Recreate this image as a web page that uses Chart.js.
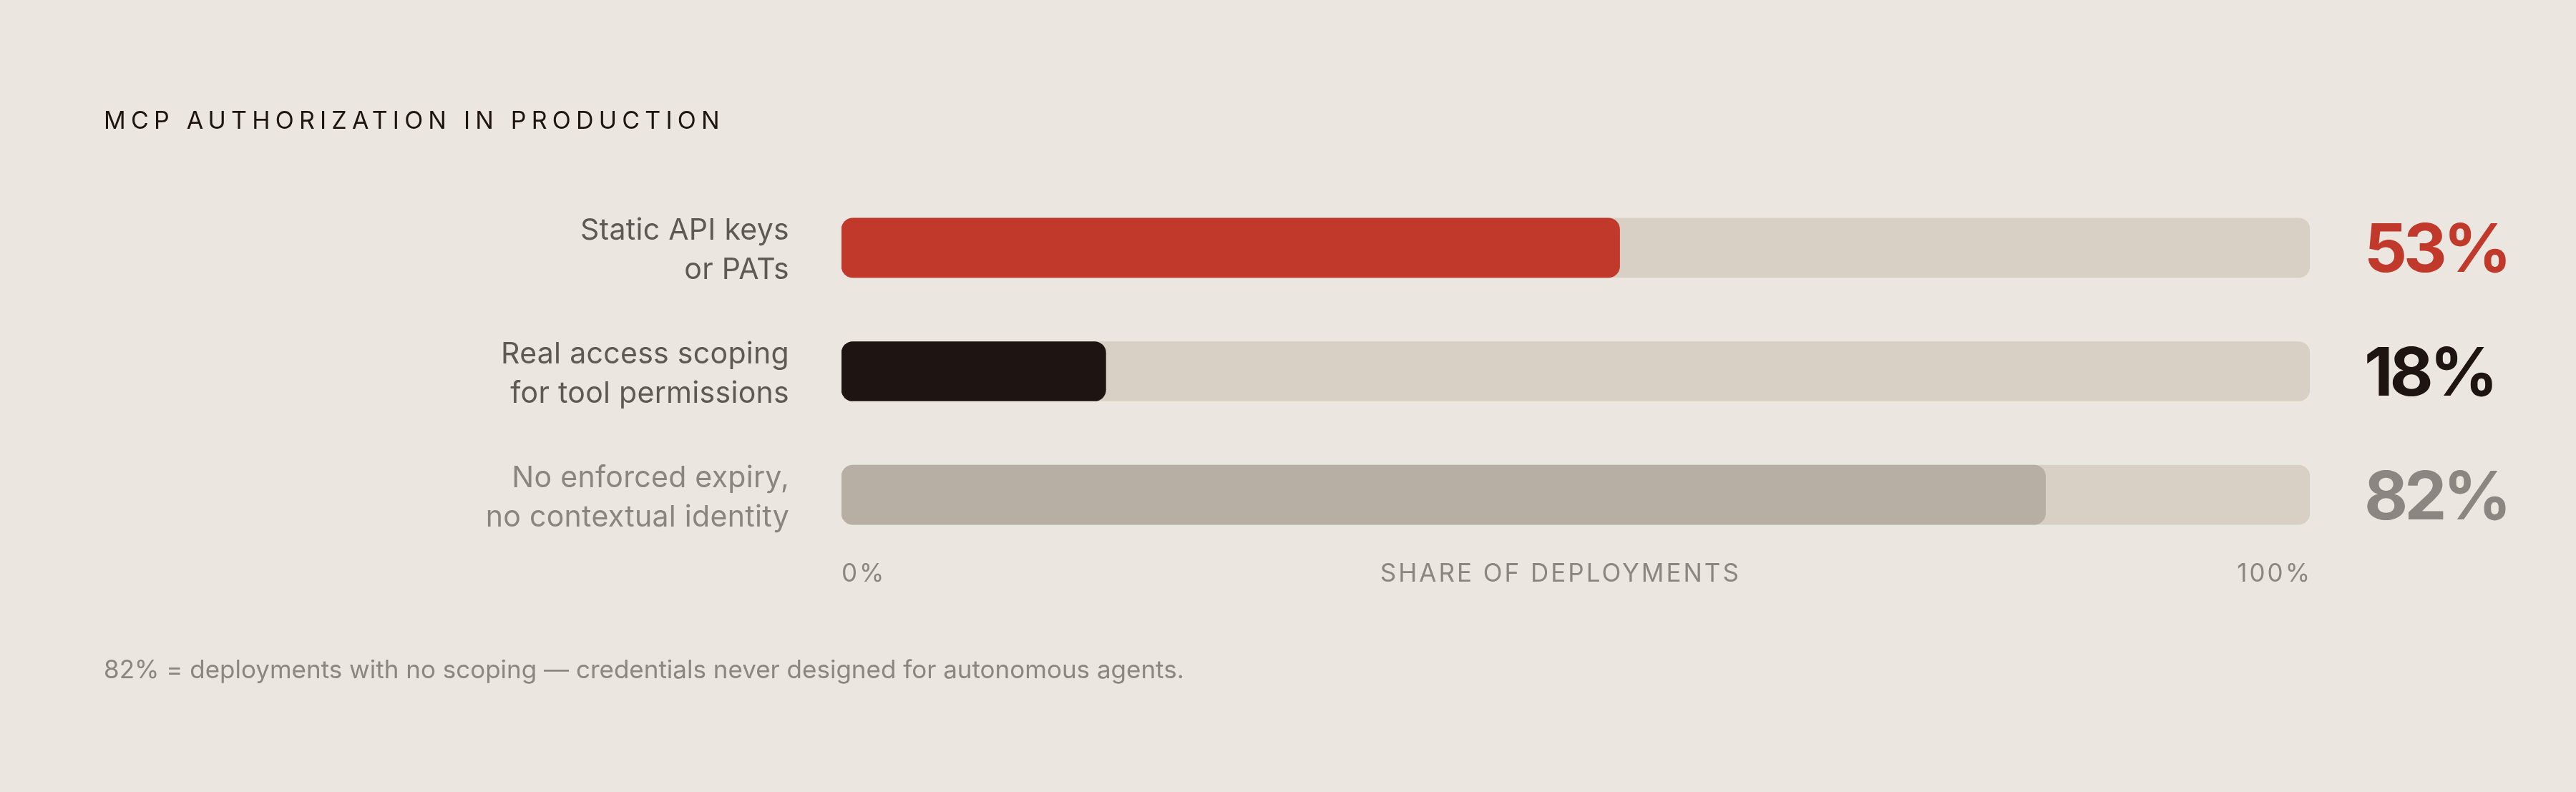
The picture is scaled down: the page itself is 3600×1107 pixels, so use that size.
<!DOCTYPE html>
<html>
<head>
<meta charset="utf-8">
<script src="https://cdn.jsdelivr.net/npm/chart.js@4"></script>
<style>
html,body{margin:0;padding:0;background:#EBE7E0;}
#wrap{width:3600px;height:1107px;}
canvas{display:block;}
</style>
</head>
<body>
<div id="wrap"><canvas id="c" width="3600" height="1107"></canvas></div>
<script>
// ---- data ----
const chartTitle = 'MCP AUTHORIZATION IN PRODUCTION';
const categories = [
  ['Static API keys', 'or PATs'],
  ['Real access scoping', 'for tool permissions'],
  ['No enforced expiry,', 'no contextual identity']
];
const values = [53, 18, 82];
const trackValues = [100, 100, 100];
const axisTickLabels = ['0%', '100%'];
const axisTitle = 'SHARE OF DEPLOYMENTS';
const footnote = '82% = deployments with no scoping \u2014 credentials never designed for autonomous agents.';

// ---- styles ----
const BG = '#EBE7E0';
const barColors = ['#C0392B', '#1E1412', '#B8AFA4'];
const valueTextColors = ['#C0392B', '#1E1412', '#8C8682'];
const catTextColors = ['#5E5955', '#5E5955', '#8A8580'];
const TRACK = '#D8D0C5';
const MUTED = '#8C8682';
const FONT = 'Inter, "DejaVu Sans", sans-serif';

const textPlugin = {
  id: 'texts',
  beforeDraw(chart) {
    const ctx = chart.ctx;
    ctx.save();
    ctx.fillStyle = BG;
    ctx.fillRect(0, 0, chart.width, chart.height);
    ctx.restore();
  },
  afterDraw(chart) {
    const ctx = chart.ctx;
    const xs = chart.scales.x, ys = chart.scales.y;
    ctx.save();
    // title
    ctx.font = '400 34px ' + FONT;
    ctx.letterSpacing = '7.2px';
    ctx.fillStyle = '#1E1412';
    ctx.textAlign = 'left';
    ctx.textBaseline = 'alphabetic';
    ctx.fillText(chartTitle, 145, 180);

    // category labels
    ctx.letterSpacing = '0.3px';
    ctx.font = '400 41px ' + FONT;
    ctx.textAlign = 'right';
    categories.forEach((lines, i) => {
      const cy = ys.getPixelForValue(i);
      ctx.fillStyle = catTextColors[i];
      ctx.fillText(lines[0], xs.left - 73, cy - 11);
      ctx.fillText(lines[1], xs.left - 73, cy + 44);
    });

    // value labels
    ctx.font = '700 94px ' + FONT;
    ctx.letterSpacing = '-5px';
    ctx.textAlign = 'left';
    values.forEach((v, i) => {
      const cy = ys.getPixelForValue(i);
      ctx.fillStyle = valueTextColors[i];
      ctx.fillText(v + '%', xs.getPixelForValue(100) + 76, cy + 34);
    });

    // axis labels
    ctx.font = '400 35px ' + FONT;
    ctx.letterSpacing = '3px';
    ctx.fillStyle = MUTED;
    const axisY = ys.bottom + 35;
    const x0 = xs.getPixelForValue(0), x1 = xs.getPixelForValue(100);
    ctx.textAlign = 'left';
    ctx.fillText(axisTickLabels[0], x0, axisY);
    const w0 = ctx.measureText(axisTickLabels[0]).width;
    ctx.textAlign = 'right';
    ctx.fillText(axisTickLabels[1], x1 + 3, axisY);
    const w1 = ctx.measureText(axisTickLabels[1]).width;
    ctx.textAlign = 'center';
    ctx.fillText(axisTitle, (x0 + w0 + x1 - w1) / 2, axisY);

    // footnote
    ctx.letterSpacing = '0px';
    ctx.font = '400 35px ' + FONT;
    ctx.textAlign = 'left';
    ctx.fillStyle = MUTED;
    ctx.fillText(footnote, 145, 948);
    ctx.restore();
  }
};

new Chart(document.getElementById('c'), {
  type: 'bar',
  data: {
    labels: categories.map(l => l.join(' ')),
    datasets: [
      {
        data: values,
        backgroundColor: barColors,
        borderRadius: 16,
        borderSkipped: false,
        barThickness: 83,
        grouped: false
      },
      {
        data: trackValues,
        backgroundColor: TRACK,
        borderRadius: 16,
        borderSkipped: false,
        barThickness: 83,
        grouped: false
      }
    ]
  },
  options: {
    indexAxis: 'y',
    responsive: false,
    devicePixelRatio: 1,
    animation: false,
    layout: { padding: { left: 1176, right: 372, top: 260, bottom: 329 } },
    scales: {
      x: { min: 0, max: 100, display: false },
      y: { display: false }
    },
    plugins: { legend: { display: false }, tooltip: { enabled: false } }
  },
  plugins: [textPlugin]
});
</script>
</body>
</html>
